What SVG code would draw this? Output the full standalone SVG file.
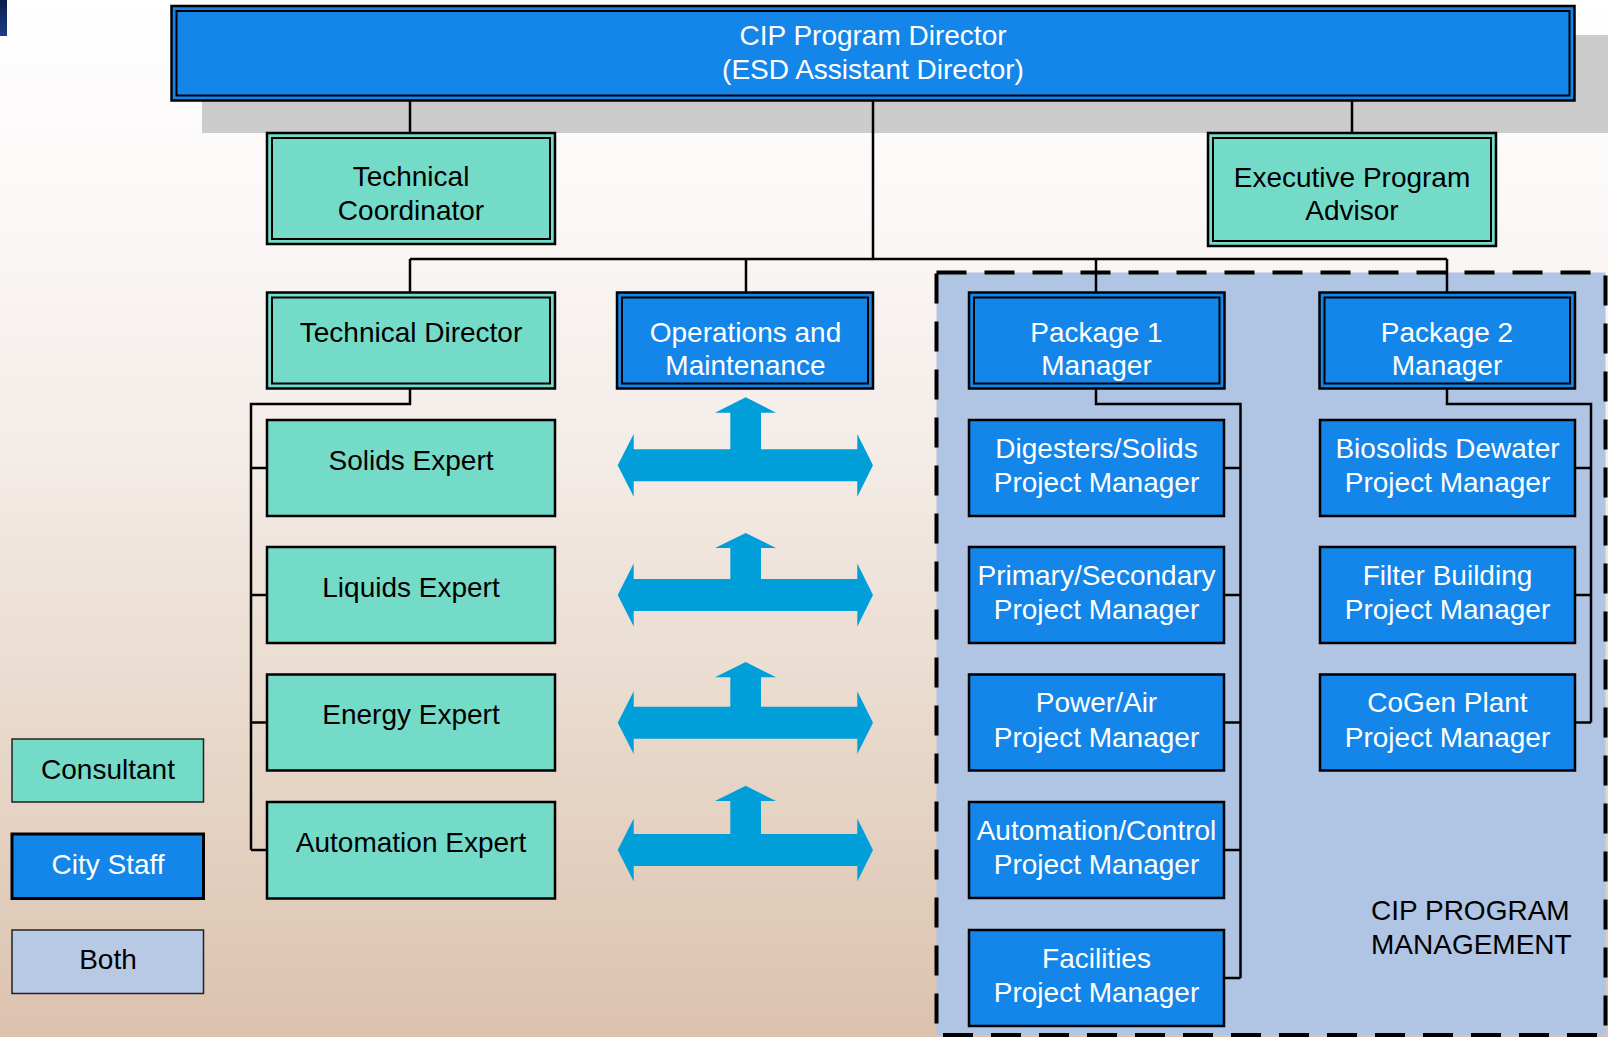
<svg xmlns="http://www.w3.org/2000/svg" width="1608" height="1037" viewBox="0 0 1608 1037">
<defs>
<linearGradient id="bg" x1="0" y1="0" x2="0" y2="1">
<stop offset="0" stop-color="#ffffff"/>
<stop offset="0.2" stop-color="#fbf8f7"/>
<stop offset="0.45" stop-color="#f3ebe6"/>
<stop offset="0.7" stop-color="#e8d9cb"/>
<stop offset="1" stop-color="#dcc2ae"/>
</linearGradient>
<linearGradient id="navy" x1="0" y1="0" x2="0" y2="1">
<stop offset="0" stop-color="#0b1d4d"/>
<stop offset="1" stop-color="#1b3d86"/>
</linearGradient>
<path id="arrow" d="M -127.8,0 L -111.8,-31.4 L -111.8,-16 L 111.8,-16 L 111.8,-31.4 L 127.5,0 L 111.8,31.4 L 111.8,16 L -111.8,16 L -111.8,31.4 Z"/>
</defs>
<style>
.blue{fill:#1486e9;stroke:#000;stroke-width:2.5}
.teal{fill:#74dbc8;stroke:#000;stroke-width:2.5}
.inner{fill:none;stroke:#000;stroke-width:2}
.tw{font-family:"Liberation Sans",Arial,sans-serif;font-size:28px;fill:#fff;text-anchor:middle}
.tb{font-family:"Liberation Sans",Arial,sans-serif;font-size:28px;fill:#000;text-anchor:middle}
.conn{fill:none;stroke:#000;stroke-width:2.5}
.arr{fill:#009fda}
</style>
<rect x="0" y="0" width="1608" height="1037" fill="url(#bg)"/>
<rect x="0" y="0" width="7" height="36" fill="url(#navy)"/>
<rect x="202" y="35" width="1406" height="98" fill="#cccccc"/>
<g id="region">
<rect x="936.5" y="272.5" width="669" height="762.5" fill="#b0c4e4" stroke="#000" stroke-width="4" stroke-dasharray="30 18"/>
<text x="1371" y="920" font-family="Liberation Sans, Arial, sans-serif" font-size="28" fill="#000">CIP PROGRAM</text>
<text x="1371" y="954" font-family="Liberation Sans, Arial, sans-serif" font-size="28" fill="#000">MANAGEMENT</text>
</g>
<g id="connectors">
<path class="conn" d="M410,100 V132 M1352,100 V132 M873,100 V259 M410,259 H1447 M410,259 V292 M746,259 V292 M1096,259 V292 M1447,259 V292"/>
<path class="conn" d="M410,388 V404 H251 V850 M251,468 H267 M251,595 H267 M251,722.5 H267 M251,850 H267"/>
<path class="conn" d="M1096,388 V404 H1240.5 V978 M1224,468 H1240.5 M1224,595 H1240.5 M1224,722.5 H1240.5 M1224,850 H1240.5 M1224,978 H1240.5"/>
<path class="conn" d="M1447,388 V404 H1591 V722.5 M1575,468 H1591 M1575,595 H1591 M1575,722.5 H1591"/>
</g>
<g id="arrows" class="arr">
<g transform="translate(745.5,465.3)"><use href="#arrow"/><path d="M-15.2,-15 V-52.6 H-30.5 L0.2,-68 L30.5,-52.6 H15.5 V-15 Z"/></g>
<g transform="translate(745.5,595)"><use href="#arrow"/><path d="M-15.2,-15 V-47 H-30.5 L0.2,-62 L30.5,-47 H15.5 V-15 Z"/></g>
<g transform="translate(745.5,722.7)"><use href="#arrow"/><path d="M-15.2,-15 V-45.4 H-30.5 L0.2,-60.7 L30.5,-45.4 H15.5 V-15 Z"/></g>
<g transform="translate(745.5,850)"><use href="#arrow"/><path d="M-15.2,-15 V-49 H-30.5 L0.2,-64.3 L30.5,-49 H15.5 V-15 Z"/></g>
</g>
<g id="cip-director">
<rect class="blue" x="171.5" y="6" width="1403" height="94.5"/>
<rect class="inner" x="176.5" y="11" width="1393" height="84.5"/>
<text class="tw" x="873" y="45">CIP Program Director</text>
<text class="tw" x="873" y="79">(ESD Assistant Director)</text>
</g>
<g id="technical-coordinator">
<rect class="teal" x="267" y="133" width="288" height="111"/>
<rect class="inner" x="272" y="138" width="278" height="101"/>
<text class="tb" x="411" y="186">Technical</text>
<text class="tb" x="411" y="220">Coordinator</text>
</g>
<g id="executive-advisor">
<rect class="teal" x="1208" y="133" width="288" height="113"/>
<rect class="inner" x="1213" y="138" width="278" height="103"/>
<text class="tb" x="1352" y="187">Executive Program</text>
<text class="tb" x="1352" y="220">Advisor</text>
</g>
<g id="technical-director">
<rect class="teal" x="267" y="292.5" width="288" height="96"/>
<rect class="inner" x="272" y="297.5" width="278" height="86"/>
<text class="tb" x="411" y="341.5">Technical Director</text>
</g>
<g id="operations">
<rect class="blue" x="617" y="292.5" width="256" height="96"/>
<rect class="inner" x="622" y="297.5" width="246" height="86"/>
<text class="tw" x="745.5" y="341.5">Operations and</text>
<text class="tw" x="745.5" y="375">Maintenance</text>
</g>
<g id="package1">
<rect class="blue" x="969" y="292.5" width="255.5" height="96"/>
<rect class="inner" x="974" y="297.5" width="245.5" height="86"/>
<text class="tw" x="1096.5" y="341.5">Package 1</text>
<text class="tw" x="1096.5" y="375">Manager</text>
</g>
<g id="package2">
<rect class="blue" x="1319.5" y="292.5" width="255.5" height="96"/>
<rect class="inner" x="1324.5" y="297.5" width="245.5" height="86"/>
<text class="tw" x="1447" y="341.5">Package 2</text>
<text class="tw" x="1447" y="375">Manager</text>
</g>
<g id="solids-expert"><rect class="teal" x="267" y="420" width="288" height="96"/><text class="tb" x="411" y="469.5">Solids Expert</text></g>
<g id="liquids-expert"><rect class="teal" x="267" y="547" width="288" height="96"/><text class="tb" x="411" y="596.5">Liquids Expert</text></g>
<g id="energy-expert"><rect class="teal" x="267" y="674.5" width="288" height="96"/><text class="tb" x="411" y="724">Energy Expert</text></g>
<g id="automation-expert"><rect class="teal" x="267" y="802" width="288" height="96.5"/><text class="tb" x="411" y="851.5">Automation Expert</text></g>
<g id="digesters-pm"><rect class="blue" x="969" y="420" width="255" height="96"/><text class="tw" x="1096.5" y="457.5">Digesters/Solids</text><text class="tw" x="1096.5" y="492">Project Manager</text></g>
<g id="primary-pm"><rect class="blue" x="969" y="547" width="255" height="96"/><text class="tw" x="1096.5" y="584.5">Primary/Secondary</text><text class="tw" x="1096.5" y="619">Project Manager</text></g>
<g id="power-pm"><rect class="blue" x="969" y="674.5" width="255" height="96"/><text class="tw" x="1096.5" y="712">Power/Air</text><text class="tw" x="1096.5" y="746.5">Project Manager</text></g>
<g id="automation-pm"><rect class="blue" x="969" y="802" width="255" height="96"/><text class="tw" x="1096.5" y="839.5">Automation/Control</text><text class="tw" x="1096.5" y="874">Project Manager</text></g>
<g id="facilities-pm"><rect class="blue" x="969" y="930" width="255" height="96"/><text class="tw" x="1096.5" y="967.5">Facilities</text><text class="tw" x="1096.5" y="1002">Project Manager</text></g>
<g id="biosolids-pm"><rect class="blue" x="1320" y="420" width="255" height="96"/><text class="tw" x="1447.5" y="457.5">Biosolids Dewater</text><text class="tw" x="1447.5" y="492">Project Manager</text></g>
<g id="filter-pm"><rect class="blue" x="1320" y="547" width="255" height="96"/><text class="tw" x="1447.5" y="584.5">Filter Building</text><text class="tw" x="1447.5" y="619">Project Manager</text></g>
<g id="cogen-pm"><rect class="blue" x="1320" y="674.5" width="255" height="96"/><text class="tw" x="1447.5" y="712">CoGen Plant</text><text class="tw" x="1447.5" y="746.5">Project Manager</text></g>
<g id="legend-consultant"><rect x="12" y="739" width="191.5" height="63" fill="#74dbc8" stroke="#222" stroke-width="1.5"/><text class="tb" x="108" y="778.5">Consultant</text></g>
<g id="legend-city-staff"><rect x="12" y="834" width="191.5" height="64.5" fill="#1486e9" stroke="#000" stroke-width="3"/><text class="tw" x="108" y="874">City Staff</text></g>
<g id="legend-both"><rect x="12" y="930" width="191.5" height="63.5" fill="#b8c9e4" stroke="#222" stroke-width="1.5"/><text class="tb" x="108" y="969">Both</text></g>
</svg>
